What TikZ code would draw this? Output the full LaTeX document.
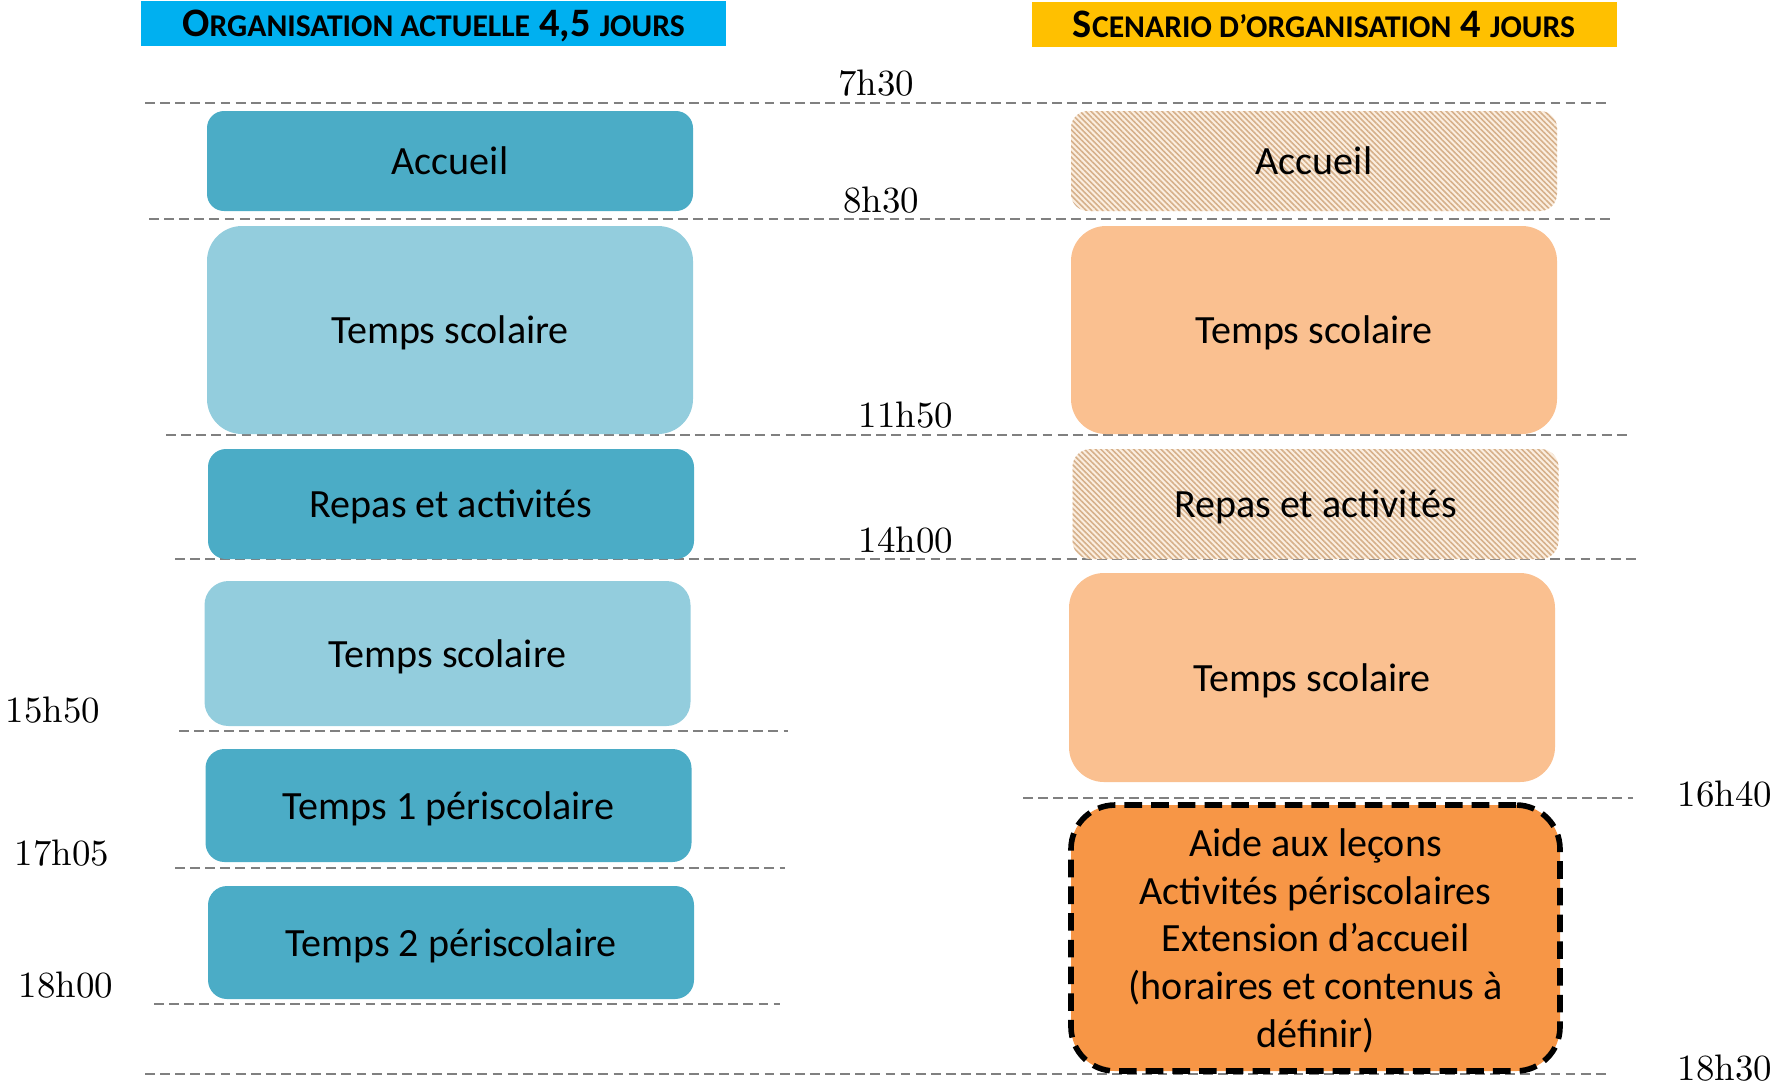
\documentclass[tikz,border=0pt]{standalone}
\usepackage{fontspec}
\usepackage{xcolor}
\usepackage{tikz}
\usetikzlibrary{patterns.meta}
\newfontfamily\calibri{Carlito}
\definecolor{darkteal}{RGB}{75,172,198}
\definecolor{lightteal}{RGB}{147,205,221}
\definecolor{peach}{RGB}{250,192,144}
\definecolor{deeporange}{RGB}{247,150,70}
\definecolor{headblue}{RGB}{0,176,240}
\definecolor{headgold}{RGB}{255,192,0}
\definecolor{hatchbg}{RGB}{251,238,224}
\definecolor{hatchline}{RGB}{214,176,138}
\definecolor{linegray}{RGB}{128,128,128}
\newcommand{\smc}[1]{{\fontsize{9}{9}\selectfont #1}}

\begin{document}
\begin{tikzpicture}[
    block/.style={rectangle, minimum width=4.86cm, minimum height=#1, inner sep=0pt, text depth=0pt, align=center, font=\calibri\fontsize{11.4}{13.6}\selectfont},
    dark/.style={block=#1, fill=darkteal},
    light/.style={block=#1, fill=lightteal},
    peachy/.style={block=#1, fill=peach},
    hatched/.style={block=#1, preaction={fill=hatchbg}, pattern={Lines[angle=-45, distance=1.1pt, line width=0.45pt]}, pattern color=hatchline},
    header/.style={rectangle, minimum width=5.85cm, minimum height=0.45cm, inner sep=0pt, text depth=0pt, font=\calibri\bfseries\fontsize{11.5}{12}\selectfont},
    timeline/.style={linegray, dash pattern=on 2.8pt off 1.5pt, line width=0.6pt},
    hour/.style={inner sep=0pt, font=\fontsize{10.5}{12}\selectfont}
]
    \useasboundingbox (0,0) rectangle (17.72,-10.87);

    \node[header, fill=headblue] (titleL) at (4.335,-0.23) {O\smc{RGANISATION ACTUELLE} 4,5 \smc{JOURS}};
    \node[header, fill=headgold] (titleR) at (13.24,-0.24) {S\smc{CENARIO D’ORGANISATION} 4 \smc{JOURS}};

    \draw[timeline] (1.45,-1.03) -- (16.07,-1.03);
    \draw[timeline] (1.49,-2.19) -- (16.14,-2.19);
    \draw[timeline] (1.66,-4.35) -- (16.30,-4.35);
    \draw[timeline] (1.75,-5.59) -- (16.39,-5.59);
    \draw[timeline] (1.79,-7.31) -- (7.88,-7.31);
    \draw[timeline] (1.75,-8.68) -- (7.85,-8.68);
    \draw[timeline] (1.54,-10.04) -- (7.80,-10.04);
    \draw[timeline] (10.23,-7.98) -- (16.33,-7.98);
    \draw[timeline] (1.45,-10.74) -- (16.07,-10.74);

    \node[hour] (h0730) at (8.76,-0.83) {7h30};
    \node[hour] (h0830) at (8.81,-2.00) {8h30};
    \node[hour] (h1150) at (9.06,-4.15) {11h50};
    \node[hour] (h1400) at (9.06,-5.40) {14h00};
    \node[hour] (h1550) at (0.53,-7.10) {15h50};
    \node[hour] (h1705) at (0.62,-8.53) {17h05};
    \node[hour] (h1800) at (0.66,-9.85) {18h00};
    \node[hour] (h1640) at (17.25,-7.94) {16h40};
    \node[hour] (h1830) at (17.25,-10.68) {18h30};

    \node[dark=1.00cm, rounded corners=0.17cm] (accL) at (4.50,-1.61) {Accueil};
    \node[light=2.08cm, rounded corners=0.35cm] (scolL1) at (4.50,-3.30) {Temps scolaire};
    \node[dark=1.10cm, rounded corners=0.18cm] (repasL) at (4.51,-5.04) {Repas et activités};
    \node[light=1.45cm, rounded corners=0.24cm] (scolL2) at (4.475,-6.535) {Temps scolaire};
    \node[dark=1.13cm, rounded corners=0.19cm] (periL1) at (4.485,-8.055) {Temps 1 périscolaire};
    \node[dark=1.13cm, rounded corners=0.19cm] (periL2) at (4.51,-9.425) {Temps 2 périscolaire};

    \node[hatched=1.00cm, rounded corners=0.17cm] (accR) at (13.14,-1.61) {Accueil};
    \node[peachy=2.08cm, rounded corners=0.35cm] (scolR1) at (13.14,-3.30) {Temps scolaire};
    \node[hatched=1.10cm, rounded corners=0.18cm] (repasR) at (13.155,-5.04) {Repas et activités};
    \node[peachy=2.09cm, rounded corners=0.35cm] (scolR2) at (13.12,-6.775) {Temps scolaire};
    \node[block=2.66cm, minimum width=4.89cm, rounded corners=0.44cm, fill=deeporange, draw=black, line width=1.6pt, dash pattern=on 5pt off 2.6pt] (extraR) at (13.155,-9.38) {Aide aux leçons\\Activités périscolaires\\Extension d’accueil\\(horaires et contenus à\\définir)};
\end{tikzpicture}
\end{document}
